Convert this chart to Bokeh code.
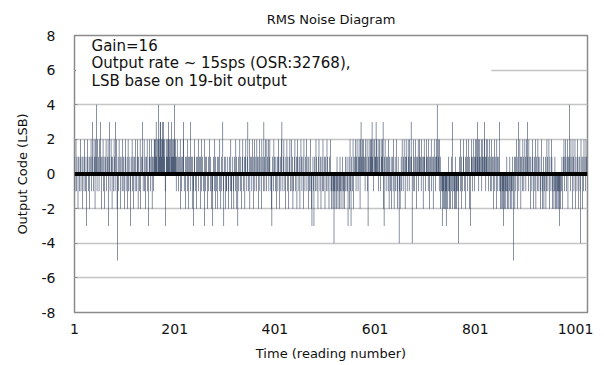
from bokeh.plotting import figure
from bokeh.models import Range1d, FixedTicker, Span, BoxAnnotation, Label
from bokeh.embed import file_html
from bokeh.resources import INLINE

# ---- data: 1024 readings of output code (LSB) in blocks of 128 ----
block_0 = [1,-1,0,2,-1,1,0,-2,1,0,-1,1,2,-1,0,1,
           -2,1,0,-1,2,1,-1,0,-3,1,2,0,-1,1,-2,1,
           0,2,-1,1,3,0,-1,2,1,-2,2,1,4,-1,2,0,
           1,-1,2,0,3,1,-2,1,0,2,-1,1,-2,0,1,2,
           -1,0,1,2,-3,1,3,-1,0,2,1,-2,1,0,-1,2,
           1,-1,3,0,2,-2,-5,1,-1,2,0,1,-2,1,0,-1,
           2,-1,1,0,-2,1,2,-1,0,1,-2,2,-1,1,0,-1,
           -3,1,0,2,-1,1,-2,0,1,-1,2,0,-1,1,2,-2]
block_1 = [1,0,-1,2,-2,1,0,1,3,-1,0,2,-1,1,-2,0,
           1,2,-1,0,-3,1,2,1,-1,0,2,-2,1,1,-1,2,
           2,1,2,3,1,2,0,2,4,2,1,3,3,2,1,2,
           3,2,3,1,2,-1,-3,2,1,2,1,2,3,1,2,0,
           2,1,3,2,1,2,1,2,4,1,2,-1,1,2,0,1,
           -1,1,0,2,-2,1,-1,0,1,2,3,-1,0,1,-2,1,
           0,-1,2,1,-2,0,1,-1,3,0,1,-2,1,-1,-3,1,
           2,0,-1,1,-2,1,0,2,-1,1,0,-2,1,2,-1,0]
block_2 = [1,-1,0,2,-3,1,-1,0,1,-2,0,1,-1,2,0,-1,
           1,0,-2,-1,-3,1,0,-1,2,-2,1,0,-1,1,-2,0,
           1,-1,2,0,-2,1,-1,0,3,-1,-3,1,0,-2,1,-1,
           -1,0,1,-2,-1,1,0,-1,2,-2,-1,0,1,-1,-2,1,
           0,-1,2,1,-2,0,-3,1,-1,0,2,-1,1,-2,0,1,
           2,-1,0,1,-2,1,2,0,-1,1,3,-1,0,2,-2,1,
           0,1,-1,2,0,-2,1,2,-1,0,1,-1,2,1,0,-2,
           1,2,-1,0,1,-2,2,0,1,-1,3,1,-1,2,0,-1]
block_3 = [2,1,0,2,-1,1,2,0,-1,-2,-3,1,0,-1,2,1,
           0,-1,1,-2,0,1,-1,2,1,-2,0,1,-1,2,3,0,
           -1,1,2,0,-1,-2,1,0,2,-1,1,-2,0,1,2,-1,
           0,2,-1,1,-2,-1,0,1,2,-1,0,1,-2,2,1,0,
           -1,1,-2,0,2,1,-1,0,1,-2,2,0,-1,1,0,2,
           -1,0,1,-2,1,-1,0,2,-1,-2,-3,0,1,-1,-3,1,
           0,-1,2,1,-1,0,-2,1,2,0,-1,1,-2,0,1,-1,
           2,-1,0,1,-2,1,0,-1,2,1,-1,0,-2,1,0,2]
block_4 = [-1,-2,-1,0,-2,-1,-4,-1,-2,0,-1,-2,1,-1,-2,0,
           -1,-2,1,-1,-2,0,-1,1,-2,-1,0,-2,-1,1,-1,0,
           1,-1,-3,0,1,-2,2,-1,-3,1,0,-1,2,-2,1,0,
           1,2,-1,1,2,0,-1,1,2,1,-2,2,3,1,0,2,
           1,2,0,1,-1,2,1,0,2,-1,-3,1,2,0,1,2,
           1,2,3,1,2,-1,0,2,1,1,3,2,0,1,2,-1,
           1,2,0,-1,2,1,1,2,3,-2,-3,1,2,0,-1,1,
           0,1,-1,2,-2,1,0,-1,1,-2,0,1,-1,2,-2,0]
block_5 = [1,-1,0,2,-1,-2,1,0,-4,-1,-2,0,1,-1,2,0,
           -1,1,2,0,-2,1,2,1,-1,0,2,1,-1,2,1,0,
           3,1,-4,0,-1,2,1,-1,0,2,1,-2,0,1,2,-1,
           1,2,0,1,-1,2,1,0,-2,1,2,1,0,-1,1,2,
           0,1,-1,2,1,-2,0,1,2,-1,1,0,-2,1,2,0,
           1,-1,2,1,4,0,2,1,-1,2,1,-2,0,-1,-3,-1,
           -2,-1,0,-2,-1,-2,-3,-1,-2,0,-1,1,-2,-1,0,-2,
           1,-1,3,-2,-1,0,-2,-1,1,-2,-1,-2,0,-1,-4,-1]
block_6 = [0,1,-1,2,-2,1,0,-1,2,1,-1,0,1,-2,2,0,
           1,-1,0,2,-2,1,-3,0,1,2,-1,1,0,2,1,-1,
           2,1,0,2,3,1,2,-1,1,2,0,1,2,-1,1,2,
           0,1,3,2,1,-1,2,1,0,2,-1,1,2,0,-1,1,
           2,-1,1,0,-2,1,2,-1,0,1,-2,2,1,-1,0,1,
           3,-1,-2,-1,0,-2,-1,-2,-3,-1,-2,0,-1,-2,-1,1,
           -2,-1,0,-2,-1,1,-2,0,-1,-2,1,-1,-5,0,1,-2,
           1,-1,2,0,-2,1,3,-1,0,2,1,-2,1,0,-1,2]
block_7 = [1,-1,0,2,1,-1,2,0,3,1,-1,2,0,1,-2,1,
           0,-1,2,1,-2,0,1,-1,2,-2,1,0,-1,2,1,-1,
           0,1,-2,-1,2,0,-2,-1,1,-2,-1,0,1,-2,-1,2,
           1,-1,0,2,-2,1,0,-1,2,1,-2,-1,0,-2,-1,1,
           -2,-1,-2,0,-1,-2,-1,-2,-3,-1,-2,0,-1,1,-2,0,
           1,2,-1,1,2,0,-1,1,2,-2,1,0,4,1,-1,2,
           0,1,-2,2,1,-1,0,2,-2,1,0,-1,2,1,-2,0,
           1,-1,-4,2,0,1,-2,1,-1,2,0,1,-1,2,1,0]

codes = block_0 + block_1 + block_2 + block_3 + block_4 + block_5 + block_6 + block_7
readings = list(range(1, len(codes) + 1))

x_ticks = [1, 201, 401, 601, 801, 1001]
y_ticks = [-8, -6, -4, -2, 0, 2, 4, 6, 8]
y_tick_labels = {t: str(t) for t in y_ticks}
title_text = "RMS Noise Diagram"
note_lines = ["Gain=16", "Output rate ~ 15sps (OSR:32768),", "LSB base on 19-bit output"]
note_y = [7.37, 6.39, 5.40]

FONT = "DejaVu Sans"

p = figure(frame_width=513, frame_height=277, output_backend="svg", toolbar_location=None,
           x_range=Range1d(1, 1025), y_range=Range1d(-8, 8),
           min_border_left=74, min_border_right=17, min_border_top=35, min_border_bottom=50,
           title=title_text)
p.background_fill_color = "white"
p.border_fill_color = "white"
p.outline_line_color = "#8a8a8a"
p.outline_line_width = 1.5

p.title.align = "center"
p.title.offset = -4
p.title.text_font = FONT
p.title.text_font_size = "13px"
p.title.text_font_style = "normal"
p.title.text_color = "#111111"
p.title.text_line_height = 0.5
p.title.standoff = 17

# bars from 0 to each reading's code
p.vbar(x=readings, top=codes, bottom=0, width=1.0, fill_color="#13264a",
       line_color=None)

# thick zero line
p.add_layout(Span(location=0, dimension="width", line_color="black", line_width=4))

# axes
p.xaxis.ticker = FixedTicker(ticks=x_ticks)
p.yaxis.ticker = FixedTicker(ticks=y_ticks)
p.yaxis.major_label_overrides = y_tick_labels
for ax in (p.xaxis[0], p.yaxis[0]):
    ax.axis_line_color = None
    ax.minor_tick_line_color = None
    ax.major_label_text_font = FONT
    ax.major_label_text_font_size = "14px"
    ax.major_label_text_color = "#111111"
    ax.axis_label_text_font = FONT
    ax.axis_label_text_font_size = "13px"
    ax.axis_label_text_font_style = "normal"
    ax.axis_label_text_color = "#111111"
p.xaxis.major_tick_line_color = None
p.xaxis.major_tick_in = 0
p.xaxis.major_tick_out = 0
p.xaxis.major_label_standoff = 11
p.xaxis.axis_label = "Time (reading number)"
p.xaxis.axis_label_standoff = 9
p.yaxis.major_tick_in = 3
p.yaxis.major_tick_out = 0
p.yaxis.major_tick_line_color = "#8a8a8a"
p.yaxis.major_label_standoff = 19
p.yaxis.axis_label = "Output Code (LSB)"
p.yaxis.axis_label_standoff = 9

p.xgrid.grid_line_color = None
p.ygrid.ticker = FixedTicker(ticks=y_ticks)
p.ygrid.grid_line_color = "#c4c4c4"
p.ygrid.grid_line_width = 1.5

# white note box with the three text lines
p.add_layout(BoxAnnotation(left=4, right=833, top=7.9, bottom=4.55,
                           fill_color="white", fill_alpha=1.0, line_color=None))
for t, yy in zip(note_lines, note_y):
    p.add_layout(Label(x=35, y=yy, text=t, text_baseline="middle",
                       text_font=FONT, text_font_size="15px", text_color="#111111"))

open("out.html", "w").write(file_html(p, INLINE))
